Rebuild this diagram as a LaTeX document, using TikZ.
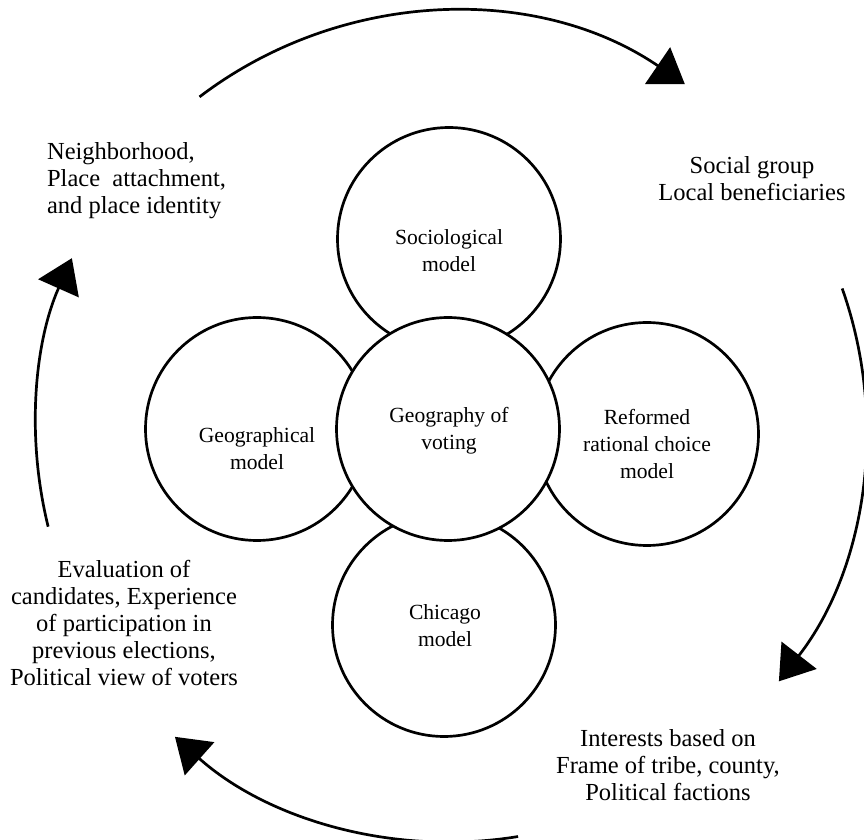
\documentclass[tikz,border=0pt]{standalone}
\usepackage{fontspec}
\setmainfont{Liberation Serif}
\usetikzlibrary{arrows.meta}
\tikzstyle{arcline} = [draw, line width=1.35pt, -{Triangle[length=16.5pt,width=22pt]}]

\begin{document}
\begin{tikzpicture}[x=0.5pt, y=-0.5pt,
   model/.style={circle, draw, line width=1.35pt, fill=white, minimum size=111.5pt, inner sep=0pt},
   modeltext/.style={align=center, inner sep=0pt, font=\fontsize{10.8}{13.4}\selectfont},
   factor/.style={align=center, inner sep=0pt, font=\fontsize{12.25}{13.5}\selectfont}]
\useasboundingbox (0,0) rectangle (864,840);

\node[model] (soc) at (449,239) {};
\node[model] (geog) at (257,429) {};
\node[model] (ref) at (647,434) {};
\node[model] (chi) at (444,625) {};
\node[model] (geo) at (448,429) {};

\node[modeltext] (soctext) at (449,251) {Sociological\\model};
\node[modeltext] (geotext) at (449,431) {Geography of\\voting};
\node[modeltext] (geogtext) at (257,449) {Geographical\\model};
\node[modeltext] (reftext) at (647,444) {Reformed\\rational choice\\model};
\node[modeltext] (chitext) at (445,626) {Chicago\\model};

\node[factor, anchor=west, align=left] (place) at (46.7,181) {Neighborhood,\\Place\ \ attachment,\\and place identity};
\node[factor] (social) at (752,179) {Social group\\Local beneficiaries};
\node[factor] (interest) at (668,765) {Interests based on\\Frame of tribe, county,\\Political factions};
\node[factor] (eval) at (124,623) {Evaluation of\\candidates, Experience\\of participation in\\previous elections,\\Political view of voters};

\coordinate (hub) at (451,427);
\draw[arcline] ([shift={(127.3:207.5pt)}]hub) arc[start angle=127.3, end angle=55.7, radius=207.5pt];
\draw[arcline] ([shift={(19.5:207.5pt)}]hub) arc[start angle=19.5, end angle=-37.8, radius=207.5pt];
\draw[arcline] ([shift={(-80.7:207.5pt)}]hub) arc[start angle=-80.7, end angle=-131.7, radius=207.5pt];
\draw[arcline] ([shift={(193.9:207.5pt)}]hub) arc[start angle=193.9, end angle=156, radius=207.5pt];

\end{tikzpicture}
\end{document}
